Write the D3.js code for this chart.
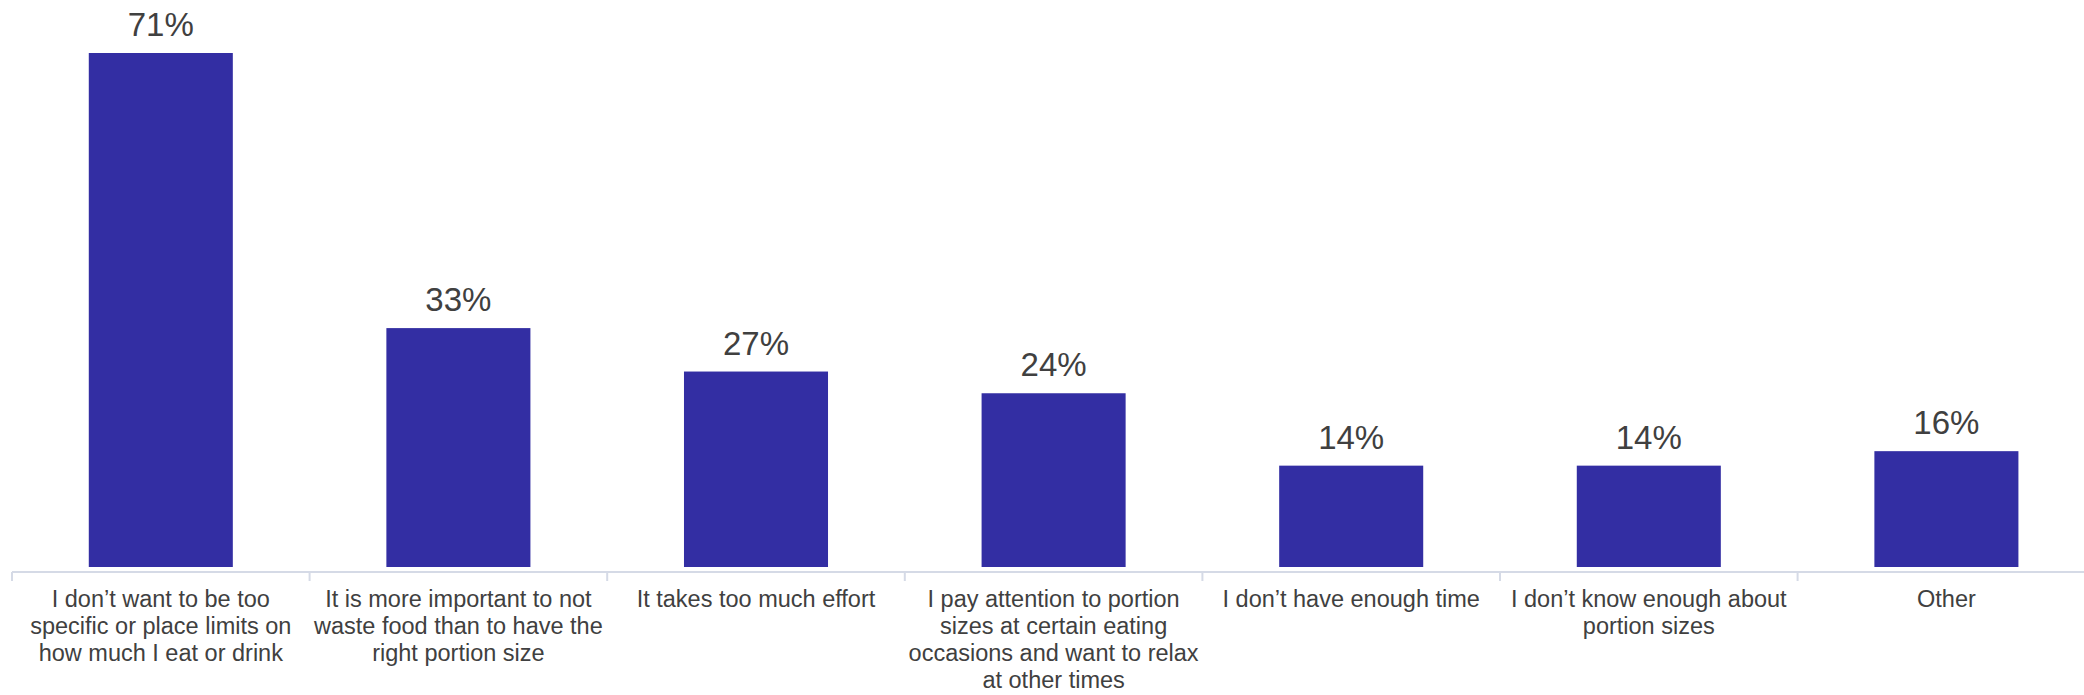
<!DOCTYPE html>
<html><head><meta charset="utf-8">
<script src="https://cdn.jsdelivr.net/npm/d3@7"></script>
<style>body{margin:0;background:#fff}svg{display:block}</style>
</head><body><svg id="c" width="2084" height="695"></svg>
<script>
const categories = [
  "I don’t want to be too|specific or place limits on|how much I eat or drink",
  "It is more important to not|waste food than to have the|right portion size",
  "It takes too much effort",
  "I pay attention to portion|sizes at certain eating|occasions and want to relax|at other times",
  "I don’t have enough time",
  "I don’t know enough about|portion sizes",
  "Other"
];
const values = [71, 33, 27, 24, 14, 14, 16];
const valueLabels = ["71%", "33%", "27%", "24%", "14%", "14%", "16%"];

const svg = d3.select("#c");
const left = 12, step = 297.6;
const x = d3.scaleBand().domain(categories).range([left, left + step * categories.length]).paddingInner(0.516).paddingOuter(0.258);
const y = d3.scaleLinear().domain([0, 71]).range([567, 53]);

svg.selectAll("rect.bar").data(values).join("rect")
  .attr("x", (d, i) => x(categories[i]))
  .attr("width", x.bandwidth())
  .attr("y", d => y(d))
  .attr("height", d => y(0) - y(d))
  .attr("fill", "#332ea3");

svg.selectAll("text.val").data(values).join("text")
  .attr("x", (d, i) => x(categories[i]) + x.bandwidth() / 2)
  .attr("y", d => y(d) - 17)
  .attr("text-anchor", "middle")
  .attr("font-family", "Liberation Sans, Arial, sans-serif")
  .attr("font-size", 33)
  .attr("fill", "#404040")
  .text((d, i) => valueLabels[i]);

// axis
const xEdge = d3.scaleLinear().domain([0, categories.length]).range([left, left + step * categories.length]);
const axisY = 572;
svg.append("line").attr("x1", left).attr("x2", 2084).attr("y1", axisY).attr("y2", axisY)
  .attr("stroke", "#d5dae6").attr("stroke-width", 2);
svg.selectAll("line.tick").data(d3.range(categories.length + 1)).join("line")
  .attr("x1", d => xEdge(d)).attr("x2", d => xEdge(d))
  .attr("y1", axisY).attr("y2", axisY + 9)
  .attr("stroke", "#d5dae6").attr("stroke-width", 2);

const labels = svg.selectAll("text.cat").data(categories).join("text")
  .attr("text-anchor", "middle")
  .attr("font-family", "Liberation Sans, Arial, sans-serif")
  .attr("font-size", 23.5)
  .attr("fill", "#404040");
labels.each(function(d) {
  const t = d3.select(this);
  const cx = x(d) + x.bandwidth() / 2;
  d.split("|").forEach((line, j) => {
    t.append("tspan").attr("x", cx).attr("y", 607 + j * 27).text(line);
  });
});
</script></body></html>
